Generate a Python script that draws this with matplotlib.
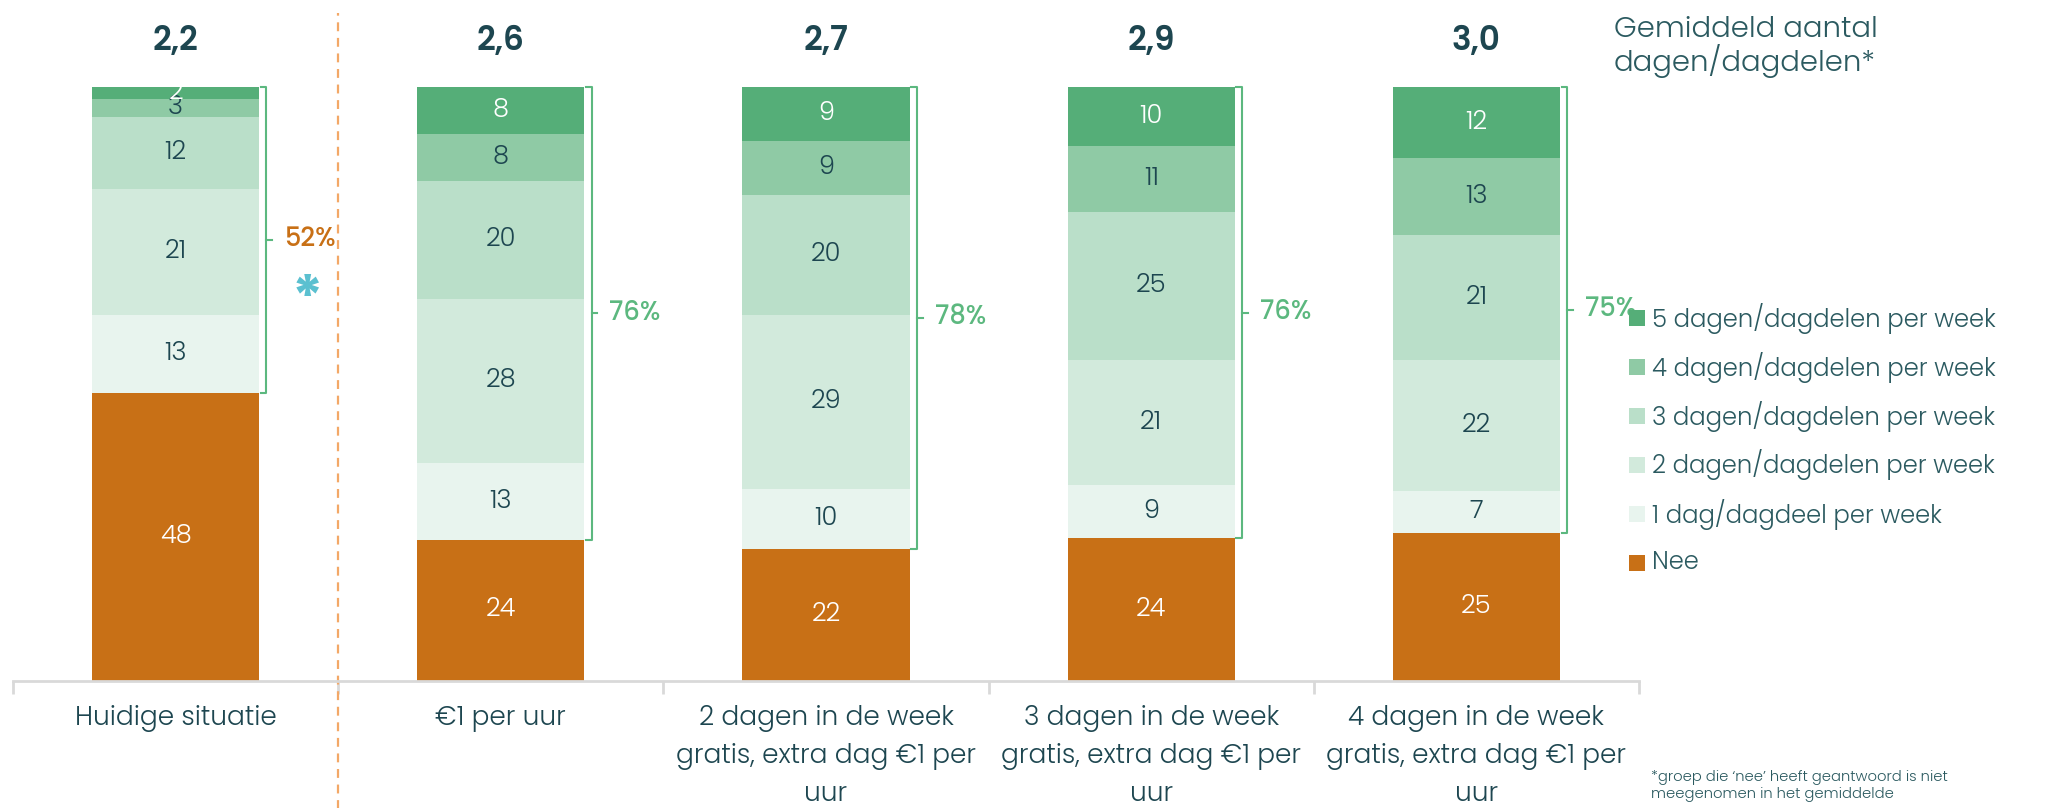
import matplotlib
matplotlib.use("Agg")
import matplotlib.pyplot as plt
from matplotlib.patches import Rectangle
import numpy as np

plt.rcParams['font.family'] = ['Poppins', 'Lato', 'DejaVu Sans']

categories = ["Huidige situatie", "€1 per uur",
              "2 dagen in de week\ngratis, extra dag €1 per\nuur",
              "3 dagen in de week\ngratis, extra dag €1 per\nuur",
              "4 dagen in de week\ngratis, extra dag €1 per\nuur"]
series_names = ["Nee", "1 dag/dagdeel per week", "2 dagen/dagdelen per week",
                "3 dagen/dagdelen per week", "4 dagen/dagdelen per week",
                "5 dagen/dagdelen per week"]
nee   = [48, 24, 22, 24, 25]
dag1  = [13, 13, 10, 9, 7]
dag2  = [21, 28, 29, 21, 22]
dag3  = [12, 20, 20, 25, 21]
dag4  = [3, 8, 9, 11, 13]
dag5  = [2, 8, 9, 10, 12]
averages = ["2,2", "2,6", "2,7", "2,9", "3,0"]
share_yes = ["52%", "76%", "78%", "76%", "75%"]

colors = ["#c87016", "#e8f4ee", "#d2eadc", "#badfc9", "#8fcaa5", "#55ae78"]
label_colors = ["white", "#1d4650", "#1d4650", "#1d4650", "#1d4650", "white"]
dark = "#1d4650"
green = "#5cb87f"

W, H = 2059, 808
fig = plt.figure(figsize=(W / 100, H / 100), dpi=100)
ax = fig.add_axes([13 / W, 1 - 681 / H, 1626 / W, 594 / H])
ax.set_xlim(-0.5, 4.5)
ax.set_ylim(0, 100)

data = np.array([nee, dag1, dag2, dag3, dag4, dag5], dtype=float)
totals = data.sum(axis=0)
norm = data / totals * 100
x = np.arange(len(categories))
bw = 0.514
bottom = np.zeros(len(categories))
for k in range(data.shape[0]):
    ax.bar(x, norm[k], bw, bottom=bottom, color=colors[k], edgecolor='none',
           label=series_names[k])
    for i in range(len(x)):
        ax.text(x[i], bottom[i] + norm[k][i] / 2, f"{int(data[k][i])}",
                ha='center', va='center', fontsize=18.5, color=label_colors[k],
                fontweight=300)
    bottom += norm[k]

# brackets and percentages
for i in range(len(x)):
    y0 = norm[0][i]
    y1 = 100
    xr = x[i] + bw / 2
    xv = xr + 0.022
    ax.plot([xr + 0.005, xv, xv, xr + 0.005], [y1, y1, y0, y0], color=green,
            lw=1.5, clip_on=False, solid_joinstyle='round')
    ym = (y0 + y1) / 2
    ax.plot([xv, xv + 0.018], [ym, ym], color=green, lw=1.5, clip_on=False)
    col = "#c87016" if i == 0 else green
    ax.text(x[i] + 0.334, ym, share_yes[i], ha='left', va='center', fontsize=18.5,
            fontweight=500, color=col, clip_on=False)
    ax.text(x[i], 107.5, averages[i], ha='center', va='center', fontsize=23.5,
            fontweight=600, color=dark, clip_on=False)

ax.text(0.405, 63.5, "*", ha='center', va='center', fontsize=42, fontweight='bold',
        color="#5bc0d0", clip_on=False)

# dashed separator
ax.plot([0.5, 0.5], [-22, 112.5], color="#f3a867", lw=1.6, ls=(0, (4, 3)),
        clip_on=False)

# axes styling
for s in ['top', 'right', 'left']:
    ax.spines[s].set_visible(False)
ax.spines['bottom'].set_color('#d9d9d9')
ax.spines['bottom'].set_linewidth(2)
ax.set_yticks([])
ax.set_xticks(x)
ax.set_xticklabels(categories, fontsize=19, color=dark, linespacing=1.55,
                   fontweight=300)
ax.tick_params(axis='x', which='major', length=0, pad=17)
ax.set_xticks(np.arange(-0.5, 5, 1), minor=True)
ax.tick_params(axis='x', which='minor', length=9, width=2, color='#d9d9d9')

# title (legend header)
fig.text(1614 / W, 1 - 47 / H, "Gemiddeld aantal\ndagen/dagdelen*", ha='left',
         va='center', fontsize=21, color="#2b5a60", fontweight=300,
         linespacing=1.0)

# legend
rows_y = [318, 367, 416, 465, 514, 563]
for j, k in enumerate(range(data.shape[0] - 1, -1, -1)):
    yc = rows_y[j]
    fig.add_artist(Rectangle((1629 / W, 1 - (yc + 8) / H), 16 / W, 16 / H,
                             transform=fig.transFigure, color=colors[k], lw=0))
    fig.text(1652 / W, 1 - yc / H, series_names[k], ha='left', va='center',
             fontsize=17.5, color="#2b5a60", fontweight=300)

fig.text(1651 / W, 1 - 786 / H,
         "*groep die ‘nee’ heeft geantwoord is niet\nmeegenomen in het gemiddelde",
         ha='left', va='center', fontsize=10.6, color="#2b5a60",
         fontweight=300, linespacing=1.1)

fig.savefig("out.png", dpi=100)
